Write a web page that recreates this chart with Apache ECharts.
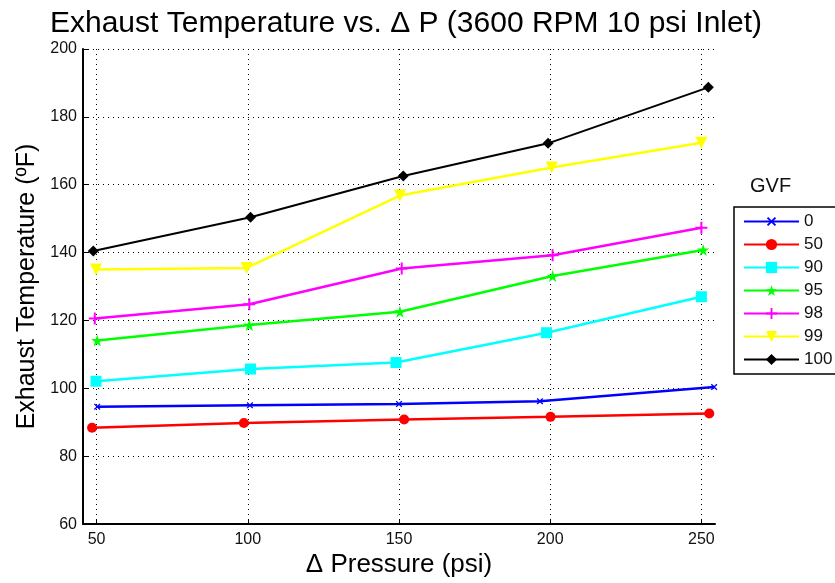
<!DOCTYPE html>
<html>
<head>
<meta charset="utf-8">
<title>Exhaust Temperature vs. Δ P</title>
<script src="https://cdn.jsdelivr.net/npm/echarts@6/dist/echarts.min.js"></script>
<style>
  html, body { margin: 0; padding: 0; background: #fff; }
  #chart { width: 835px; height: 583px; }
</style>
</head>
<body>
<div id="chart"></div>
<script>
// GVF levels (legend)
const gvfLevels = ['0', '50', '90', '95', '98', '99', '100']

// delta pressure (psi) for each run
const pressure0 = [50.2, 100.7, 150.0, 196.6, 254.2]
const pressure50 = [48.5, 98.7, 151.7, 200.1, 252.6]
const pressure90 = [49.8, 100.9, 149.0, 198.8, 250.0]
const pressure95 = [50.2, 100.5, 150.3, 200.8, 250.6]
const pressure98 = [49.4, 100.5, 150.9, 200.8, 250.0]
const pressure99 = [49.8, 99.6, 150.3, 200.5, 250.0]
const pressure100 = [48.9, 100.9, 151.4, 199.3, 252.3]

// exhaust temperature (F)
const temp0 = [94.6, 95.0, 95.4, 96.2, 100.4]
const temp50 = [88.4, 89.8, 90.8, 91.6, 92.6]
const temp90 = [102.1, 105.7, 107.6, 116.4, 127.0]
const temp95 = [114.1, 118.7, 122.6, 133.1, 140.8]
const temp98 = [120.6, 124.8, 135.3, 139.2, 147.3]
const temp99 = [135.0, 135.5, 156.8, 165.1, 172.4]
const temp100 = [140.5, 150.4, 162.6, 172.2, 188.7]

const xTicks = [50, 100, 150, 200, 250]

const pressures = [pressure0, pressure50, pressure90, pressure95, pressure98, pressure99, pressure100]
const temps = [temp0, temp50, temp90, temp95, temp98, temp99, temp100]

const plusPath = 'path://M5,0h2v5h5v2h-5v5h-2v-5h-5v-2h5z'
const starPath = 'path://M50,0L61,35L98,35L68,57L79,91L50,70L21,91L32,57L2,35L39,35Z'

const looks = [
  { color: '#0000ff', symbol: plusPath, size: 8, rotate: 45, width: 2.5 },
  { color: '#ff0000', symbol: 'circle', size: 10, rotate: 0, width: 2.5 },
  { color: '#00ffff', symbol: 'rect', size: 11, rotate: 0, width: 2.5 },
  { color: '#00ff00', symbol: starPath, size: 12, rotate: 0, width: 2.5 },
  { color: '#ff00ff', symbol: plusPath, size: 12, rotate: 0, width: 2.5 },
  { color: '#ffff00', symbol: 'triangle', size: 12, rotate: 180, width: 2.5 },
  { color: '#000000', symbol: 'diamond', size: 11, rotate: 0, width: 2 }
]

const font = "'Liberation Sans', Arial, sans-serif"

const chart = echarts.init(document.getElementById('chart'))

const seriesData = gvfLevels.map((name, i) => ({
  name: name,
  type: 'line',
  data: pressures[i].map((p, j) => [p, temps[i][j]]),
  symbol: looks[i].symbol,
  symbolSize: looks[i].size,
  symbolRotate: looks[i].rotate,
  itemStyle: { color: looks[i].color },
  lineStyle: { color: looks[i].color, width: looks[i].width },
  animation: false
}))

const option = {
  animation: false,
  title: {
    text: 'Exhaust Temperature vs. \u0394 P (3600 RPM 10 psi Inlet)',
    left: 401,
    textAlign: 'center',
    top: 4,
    textStyle: { fontFamily: font, fontSize: 30, fontWeight: 'normal', color: '#000' }
  },
  legend: {
    orient: 'vertical',
    left: 734,
    top: 207,
    padding: [6, 20, 6, 9],
    itemWidth: 55,
    itemHeight: 14,
    itemGap: 6,
    borderColor: '#000',
    borderWidth: 1.5,
    textStyle: { fontFamily: font, fontSize: 17, lineHeight: 16, color: '#111' },
    data: gvfLevels
  },
  graphic: [{
    type: 'text',
    left: 750,
    top: 176,
    style: { text: 'GVF', fontFamily: font, fontSize: 20, fill: '#111' }
  }],
  grid: {
    left: 83,
    right: 120,
    top: 49,
    bottom: 56
  },
  xAxis: {
    type: 'value',
    min: 45.5,
    max: 254.5,
    name: '\u0394 Pressure (psi)',
    nameLocation: 'middle',
    nameGap: 27,
    nameTextStyle: { fontFamily: font, fontSize: 26, color: '#000' },
    axisLine: { lineStyle: { color: '#000', width: 2 } },
    axisTick: { inside: true, length: 5, customValues: xTicks, lineStyle: { color: '#000' } },
    axisLabel: { customValues: xTicks, margin: 7, fontFamily: font, fontSize: 16, color: '#111' },
    splitLine: { show: true, lineStyle: { color: '#000', type: [1, 4], width: 1 } }
  },
  yAxis: {
    type: 'value',
    min: 60,
    max: 200,
    interval: 20,
    name: 'Exhaust Temperature (\u00baF)',
    nameLocation: 'middle',
    nameGap: 42,
    nameTextStyle: { fontFamily: font, fontSize: 25, color: '#000' },
    axisLine: { show: true, lineStyle: { color: '#000', width: 2 } },
    axisTick: { show: true, inside: true, length: 5, lineStyle: { color: '#000' } },
    axisLabel: { margin: 6, fontFamily: font, fontSize: 16, color: '#111' },
    splitLine: { show: true, lineStyle: { color: '#000', type: [1, 4], width: 1 } }
  },
  series: seriesData
}

chart.setOption(option)
</script>
</body>
</html>
